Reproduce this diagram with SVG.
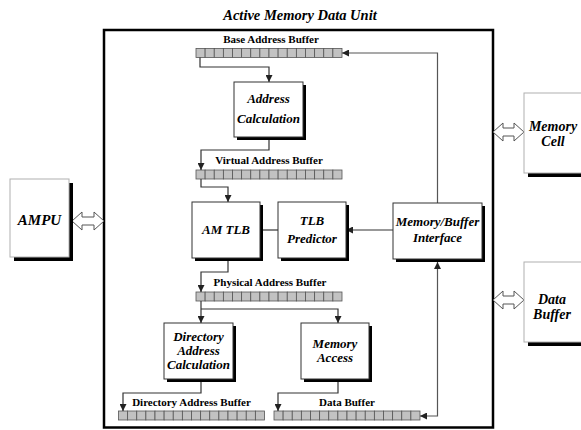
<svg xmlns="http://www.w3.org/2000/svg" xmlns:xlink="http://www.w3.org/1999/xlink" width="581" height="430" viewBox="0 0 581 430">
<style>
.t{font-family:"Liberation Serif","Times New Roman",serif;font-weight:bold;font-style:italic;font-size:13px;fill:#000;text-anchor:middle}
.tb{font-size:15px}
.te{font-size:14px}
.bl{font-family:"Liberation Serif","Times New Roman",serif;font-weight:bold;font-size:11px;fill:#000;text-anchor:middle}
.box{fill:#fff;stroke:#333;stroke-width:1}
.ext{fill:#fff;stroke:#b0b0b0;stroke-width:1}
.sh{fill:#000}
.c{fill:none;stroke:#333;stroke-width:1.2}
.cell{fill:#c2c2c2;stroke:#555;stroke-width:0.8}
.dbl{fill:#fff;stroke:#555;stroke-width:1}
</style>
<defs>
<marker id="ah" viewBox="0 0 7 7" refX="7" refY="3.5" markerWidth="7" markerHeight="7" markerUnits="userSpaceOnUse" orient="auto-start-reverse">
<path d="M0,0 L7,3.5 L0,7 z" fill="#222"/>
</marker>
<g id="buf">
<rect class="cell" x="0" y="0" width="9.125" height="9"/>
<rect class="cell" x="9.125" y="0" width="9.125" height="9"/>
<rect class="cell" x="18.25" y="0" width="9.125" height="9"/>
<rect class="cell" x="27.375" y="0" width="9.125" height="9"/>
<rect class="cell" x="36.5" y="0" width="9.125" height="9"/>
<rect class="cell" x="45.625" y="0" width="9.125" height="9"/>
<rect class="cell" x="54.75" y="0" width="9.125" height="9"/>
<rect class="cell" x="63.875" y="0" width="9.125" height="9"/>
<rect class="cell" x="73" y="0" width="9.125" height="9"/>
<rect class="cell" x="82.125" y="0" width="9.125" height="9"/>
<rect class="cell" x="91.25" y="0" width="9.125" height="9"/>
<rect class="cell" x="100.375" y="0" width="9.125" height="9"/>
<rect class="cell" x="109.5" y="0" width="9.125" height="9"/>
<rect class="cell" x="118.625" y="0" width="9.125" height="9"/>
<rect class="cell" x="127.75" y="0" width="9.125" height="9"/>
<rect class="cell" x="136.875" y="0" width="9.125" height="9"/>
</g>
</defs>

<!-- main frame -->
<g id="frame">
<text class="t" x="300" y="20" style="font-size:14.5px">Active Memory Data Unit</text>
<rect x="104" y="30" width="389" height="397.5" fill="none" stroke="#000" stroke-width="2.5"/>
</g>

<!-- buffers -->
<g id="base-buffer">
<text class="bl" x="271" y="43">Base Address Buffer</text>
<use xlink:href="#buf" x="196" y="48.5"/>
</g>
<g id="virtual-buffer">
<text class="bl" x="269" y="164">Virtual Address Buffer</text>
<use xlink:href="#buf" x="196" y="170"/>
</g>
<g id="physical-buffer">
<text class="bl" x="270" y="286">Physical Address Buffer</text>
<use xlink:href="#buf" x="196" y="292"/>
</g>
<g id="directory-buffer">
<text class="bl" x="191.5" y="406">Directory Address Buffer</text>
<use xlink:href="#buf" x="118.5" y="411"/>
</g>
<g id="data-buffer">
<text class="bl" x="347" y="406">Data Buffer</text>
<use xlink:href="#buf" x="274" y="411"/>
</g>

<!-- connectors -->
<g id="connectors">
<path class="c" d="M200,57.5 V67 H269 V82" marker-end="url(#ah)"/>
<path class="c" d="M269,137 V150 H201 V170" marker-end="url(#ah)"/>
<path class="c" d="M201,179 V187 H228 V202" marker-end="url(#ah)"/>
<path class="c" d="M260,230 H278"/>
<path class="c" d="M393,230 H346" marker-end="url(#ah)"/>
<path class="c" d="M437.5,203 V53 H342" marker-end="url(#ah)" style="stroke:#555"/>
<path class="c" d="M228,258 V272 H201 V292" marker-end="url(#ah)"/>
<path class="c" d="M201,301 V323" marker-end="url(#ah)"/>
<path class="c" d="M201,309 H338 V323" marker-end="url(#ah)"/>
<path class="c" d="M201,379 V393 H123 V411" marker-end="url(#ah)"/>
<path class="c" d="M338,379 V393 H278 V411" marker-end="url(#ah)"/>
<path class="c" d="M420,416 H437.5 V262" marker-start="url(#ah)" marker-end="url(#ah)" style="stroke:#555"/>
<polygon class="dbl" points="72,221 82,212 82,217 94,217 94,212 104,221 94,230 94,225 82,225 82,230"/>
<polygon class="dbl" points="493,132 503,123 503,128 514,128 514,123 524,132 514,141 514,136 503,136 503,141"/>
<polygon class="dbl" points="493,300 503,291 503,296 514,296 514,291 524,300 514,309 514,304 503,304 503,309"/>
</g>

<!-- internal nodes -->
<g id="address-calculation">
<rect class="sh" x="237" y="85" width="69" height="55"/>
<rect class="box" x="234" y="82" width="69" height="55"/>
<text class="t" x="268.5" y="103">Address</text>
<text class="t" x="268.5" y="123">Calculation</text>
</g>
<g id="am-tlb">
<rect class="sh" x="195" y="205" width="68" height="56"/>
<rect class="box" x="192" y="202" width="68" height="56"/>
<text class="t" x="226" y="234">AM TLB</text>
</g>
<g id="tlb-predictor">
<rect class="sh" x="281" y="205" width="68" height="56"/>
<rect class="box" x="278" y="202" width="68" height="56"/>
<text class="t" x="312" y="225">TLB</text>
<text class="t" x="312" y="243">Predictor</text>
</g>
<g id="memory-buffer-interface">
<rect class="sh" x="396" y="206" width="89" height="56"/>
<rect class="box" x="393" y="203" width="89" height="56"/>
<text class="t" x="437.5" y="226">Memory/Buffer</text>
<text class="t" x="437.5" y="242">Interface</text>
</g>
<g id="directory-address-calculation">
<rect class="sh" x="167" y="326" width="69" height="56"/>
<rect class="box" x="164" y="323" width="69" height="56"/>
<text class="t" x="198.5" y="341">Directory</text>
<text class="t" x="198.5" y="355">Address</text>
<text class="t" x="198.5" y="369">Calculation</text>
</g>
<g id="memory-access">
<rect class="sh" x="304" y="326" width="68" height="56"/>
<rect class="box" x="301" y="323" width="68" height="56"/>
<text class="t" x="335" y="348">Memory</text>
<text class="t" x="335" y="362">Access</text>
</g>

<!-- external nodes -->
<g id="ampu">
<rect class="sh" x="14" y="183" width="59" height="78"/>
<rect class="ext" x="10" y="179" width="59" height="78"/>
<text class="t tb" x="39.5" y="225">AMPU</text>
</g>
<g id="memory-cell">
<rect class="sh" x="528" y="97" width="60" height="80"/>
<rect class="ext" x="524" y="93" width="62" height="80"/>
<text class="t te" x="553" y="131">Memory</text>
<text class="t te" x="553" y="146">Cell</text>
</g>
<g id="data-buffer-ext">
<rect class="sh" x="528" y="266" width="60" height="80"/>
<rect class="ext" x="524" y="262" width="62" height="80"/>
<text class="t te" x="552" y="304">Data</text>
<text class="t te" x="552" y="319">Buffer</text>
</g>
</svg>
